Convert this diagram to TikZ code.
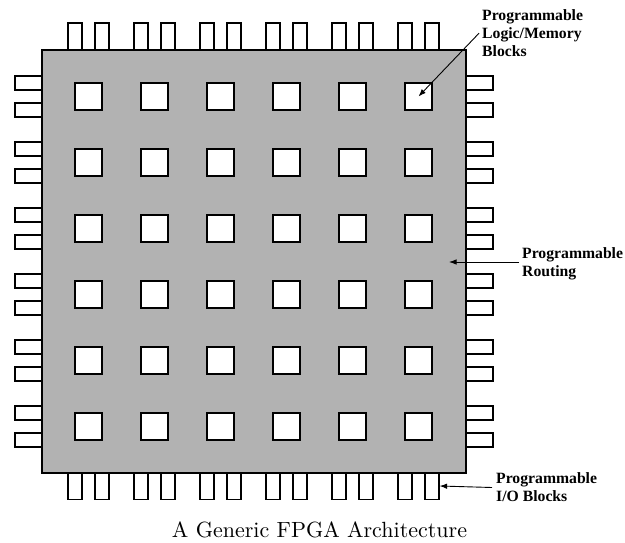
\documentclass[tikz,border=0pt]{standalone}
\usepackage{fontspec}
\newfontfamily\lblfont{Liberation Serif}
\newfontfamily\capfont{lmroman10-regular}[Extension=.otf]
\usetikzlibrary{arrows.meta}
\definecolor{chipgray}{gray}{0.7}
\begin{document}
\begin{tikzpicture}[x=1pt,y=-1pt,
  pinv/.style={draw=black,fill=white,line width=1.2pt,minimum width=14pt,minimum height=27pt,inner sep=0pt},
  pinh/.style={draw=black,fill=white,line width=1.2pt,minimum width=27pt,minimum height=14pt,inner sep=0pt},
  chip/.style={draw=black,fill=chipgray,line width=1.8pt,minimum width=424pt,minimum height=423pt,inner sep=0pt},
  blk/.style={draw=black,fill=white,line width=1.3pt,minimum size=27pt,inner sep=0pt},
  lbl/.style={font=\lblfont\bfseries\fontsize{15.7}{18}\selectfont,align=left,inner sep=0pt},
  arr/.style={-{Latex[length=7.5pt,width=5.5pt]},line width=0.9pt}]
\useasboundingbox (0,0) rectangle (625,543);
% pins
\foreach \k in {0,...,5}{
  \pgfmathsetmacro{\c}{88.5+66*\k}
  \node[pinv] (pt\k a) at (\c-13.5,36.5) {};
  \node[pinv] (pt\k b) at (\c+13.5,36.5) {};
  \node[pinv] (pb\k a) at (\c-13.5,486) {};
  \node[pinv] (pb\k b) at (\c+13.5,486) {};
  \pgfmathsetmacro{\r}{96.5+66*\k}
  \node[pinh] (pl\k a) at (28.5,\r-13.5) {};
  \node[pinh] (pl\k b) at (28.5,\r+13.5) {};
  \node[pinh] (pr\k a) at (479.5,\r-13.5) {};
  \node[pinh] (pr\k b) at (479.5,\r+13.5) {};
}
% chip body
\node[chip] (chip) at (254,261.5) {};
% logic/memory blocks
\foreach \i in {0,...,5}{
  \foreach \j in {0,...,5}{
    \node[blk] (b\i\j) at ({88.5+66*\j},{96.5+66*\i}) {};
  }
}
% labels
\node[lbl,anchor=north west] (lmb) at (482,9.5) {Programmable\\Logic/Memory\\Blocks};
\draw[arr] ([xshift=-3pt]lmb.west) -- (b05.center);
\node[lbl,anchor=west] (rt) at (522,263.5) {Programmable\\Routing};
\coordinate (rtip) at (449,262);
\draw[arr] ([xshift=-3pt,yshift=1.5pt]rt.west) -- (rtip);
\node[lbl,anchor=west] (io) at (496,487.5) {Programmable\\I/O Blocks};
\draw[arr] ([xshift=-4pt]io.west) -- (pb5b.east);
% caption
\node[anchor=base,inner sep=0pt] (cap) at (319.5,537) {\capfont\fontsize{22}{26}\selectfont A Generic FPGA Architecture};
\end{tikzpicture}
\end{document}
